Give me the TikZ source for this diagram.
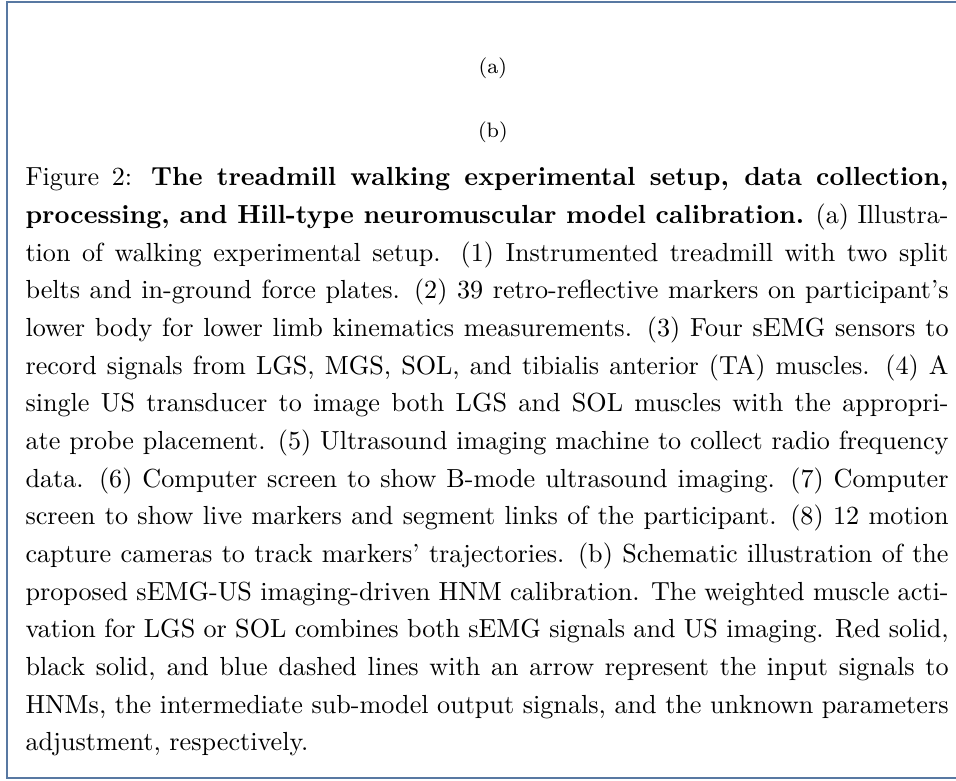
\documentclass[tikz,border=0pt]{standalone}
\definecolor{FrameColour}{RGB}{88,120,162}
\tolerance=9999
\hyphenpenalty=10000
\exhyphenpenalty=10000
\tikzset{
  sublabel/.style={inner sep=0pt, font=\footnotesize},
  captext/.style={inner sep=0pt, text width=353pt, align=justify,
    font=\fontsize{10pt}{14.4pt}\selectfont}
}

\begin{document}
\begin{tikzpicture}

\useasboundingbox (0,0) rectangle (365.6pt,-298.3pt);

\coordinate (TL) at (2.7pt,-0.8pt);
\coordinate (BR) at (380pt,-297.5pt);

% Marco
\draw[FrameColour, line width=0.8pt] (TL) rectangle (BR);

% Subfiguras
\node[sublabel] (suba) at (188.5pt,-26pt) {(a)};
\node[sublabel] (subb) at (188.5pt,-50.5pt) {(b)};

% Leyenda, con los cortes de linea del original
\node[captext, anchor=base west] (caption) at (9.56pt,-71.1pt)
{Figure 2: \textbf{The treadmill walking experimental setup, data collection,\linebreak
processing, and Hill-type neuromuscular model calibration.} (a) Illustra-\linebreak
tion of walking experimental setup. (1) Instrumented treadmill with two split\linebreak
belts and in-ground force plates. (2) 39 retro-reflective markers on participant’s\linebreak
lower body for lower limb kinematics measurements. (3) Four sEMG sensors to\linebreak
record signals from LGS, MGS, SOL, and tibialis anterior (TA) muscles. (4) A\linebreak
single US transducer to image both LGS and SOL muscles with the appropri-\linebreak
ate probe placement. (5) Ultrasound imaging machine to collect radio frequency\linebreak
data. (6) Computer screen to show B-mode ultrasound imaging. (7) Computer\linebreak
screen to show live markers and segment links of the participant. (8) 12 motion\linebreak
capture cameras to track markers’ trajectories. (b) Schematic illustration of the\linebreak
proposed sEMG-US imaging-driven HNM calibration. The weighted muscle acti-\linebreak
vation for LGS or SOL combines both sEMG signals and US imaging. Red solid,\linebreak
black solid, and blue dashed lines with an arrow represent the input signals to\linebreak
HNMs, the intermediate sub-model output signals, and the unknown parameters\linebreak
adjustment, respectively.};

\end{tikzpicture}
\end{document}
